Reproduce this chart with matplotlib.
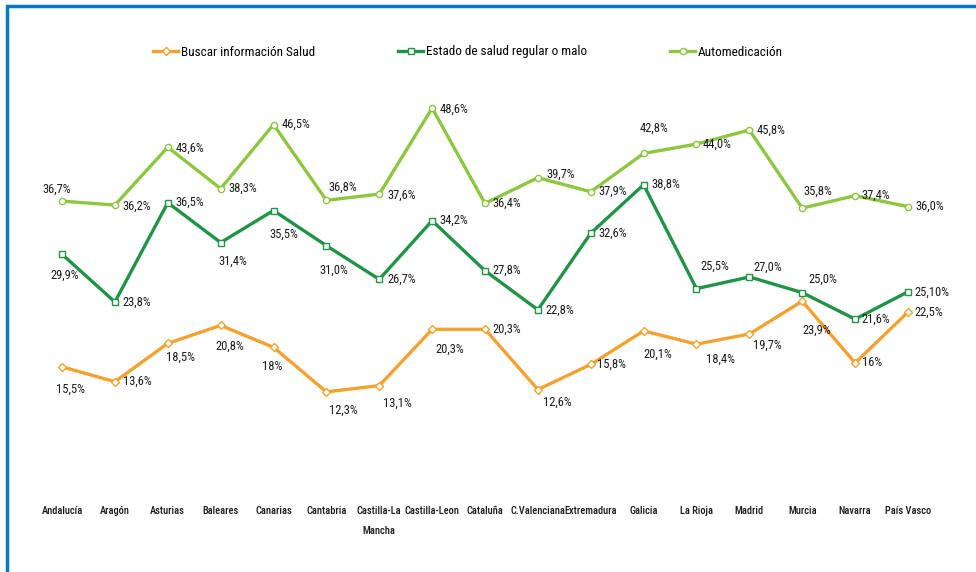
import matplotlib.pyplot as plt
from matplotlib.patches import Rectangle

plt.rcParams['font.family'] = ['Roboto Condensed', 'Archivo Narrow', 'DejaVu Sans']

regiones = ['Andalucía', 'Aragón', 'Asturias', 'Baleares', 'Canarias', 'Cantabria',
            'Castilla-La\nMancha', 'Castilla-Leon', 'Cataluña', 'C.Valenciana',
            'Extremadura', 'Galicia', 'La Rioja', 'Madrid', 'Murcia', 'Navarra',
            'País Vasco']

buscar = [15.5, 13.6, 18.5, 20.8, 18.0, 12.3, 13.1, 20.3, 20.3, 12.6, 15.8, 20.1,
          18.4, 19.7, 23.9, 16.0, 22.5]
buscar_txt = ['15,5%', '13,6%', '18,5%', '20,8%', '18%', '12,3%', '13,1%', '20,3%',
              '20,3%', '12,6%', '15,8%', '20,1%', '18,4%', '19,7%', '23,9%', '16%', '22,5%']

estado = [29.9, 23.8, 36.5, 31.4, 35.5, 31.0, 26.7, 34.2, 27.8, 22.8, 32.6, 38.8,
          25.5, 27.0, 25.0, 21.6, 25.1]
estado_txt = ['29,9%', '23,8%', '36,5%', '31,4%', '35,5%', '31,0%', '26,7%', '34,2%',
              '27,8%', '22,8%', '32,6%', '38,8%', '25,5%', '27,0%', '25,0%', '21,6%', '25,10%']

auto = [36.7, 36.2, 43.6, 38.3, 46.5, 36.8, 37.6, 48.6, 36.4, 39.7, 37.9, 42.8,
        44.0, 45.8, 35.8, 37.4, 36.0]
auto_txt = ['36,7%', '36,2%', '43,6%', '38,3%', '46,5%', '36,8%', '37,6%', '48,6%',
            '36,4%', '39,7%', '37,9%', '42,8%', '44,0%', '45,8%', '35,8%', '37,4%', '36,0%']

# label offsets in pixels (dx, dy), dy positive = up
off_b = [(8, -22), (22, 0), (13, -14), (9, -21), (-1, -19), (17, -18), (18, -18),
         (18, -20), (22, 0), (19, -13), (21, 0), (14, -23), (24, -15), (18, -11),
         (14, -29), (17, 0), (21, 0)]
off_e = [(3, -21), (22, 0), (22, 0), (12, -19), (10, -24), (7, -25), (22, 0), (22, 0),
         (22, 0), (22, 0), (22, 0), (22, 0), (18, 22), (18, 10), (21, 13), (21, 0), (24, 0)]
off_a = [(-5, 12), (22, -1), (22, -1), (22, 0), (22, 0), (16, 13), (22, -1), (22, -1),
         (22, 0), (23, 3), (22, 0), (10, 25), (21, 0), (22, 0), (16, 17), (21, 0), (22, 0)]

c_b = '#F5A130'
c_e = '#1F9446'
c_a = '#8DC63F'

fig = plt.figure(figsize=(9.76, 5.72), dpi=100)
W, H = 976, 572
ax = fig.add_axes([35.6 / W, (H - 488) / H, (934.4 - 35.6) / W, (488 - 19) / H])

x = list(range(len(regiones)))
ax.plot(x, buscar, color=c_b, lw=2.4, marker='D', ms=4.5, mfc='white', mec=c_b,
        mew=1.0, label='Buscar información Salud', zorder=3)
ax.plot(x, estado, color=c_e, lw=2.4, marker='s', ms=5, mfc='white', mec=c_e,
        mew=1.0, label='Estado de salud regular o malo', zorder=3)
ax.plot(x, auto, color=c_a, lw=2.4, marker='o', ms=4.5, mfc='white', mec=c_a,
        mew=1.0, label='Automedicación', zorder=3)

for vals, txts, offs in [(buscar, buscar_txt, off_b), (estado, estado_txt, off_e),
                         (auto, auto_txt, off_a)]:
    for i in x:
        ax.annotate(txts[i], (i, vals[i]), xytext=offs[i], textcoords='offset pixels',
                    ha='center', va='center', fontsize=9, color='#1a1a1a')

ax.set_xlim(-0.5, len(regiones) - 0.5)
ax.set_ylim(0, 60)
ax.set_xticks(x)
ax.set_xticklabels(regiones, fontsize=7.5, color='#1a1a1a', linespacing=2.2,
                   fontweight='medium', va='top')
ax.tick_params(axis='x', length=0, pad=13)
ax.set_yticks([])
for s in ax.spines.values():
    s.set_visible(False)

fig.legend(loc='center', bbox_to_anchor=(468 / W, 1 - 52 / H), ncol=3, frameon=False,
           fontsize=9.5, columnspacing=6.3, handlelength=1.9, handletextpad=0.2,
           borderaxespad=0)

fig.patches.append(Rectangle((7 / W, -0.1), 1.2, 1 - 6 / H + 0.1, transform=fig.transFigure,
                             fill=False, ec='#0A78C8', lw=2.5))

fig.savefig('out.png', dpi=100)
